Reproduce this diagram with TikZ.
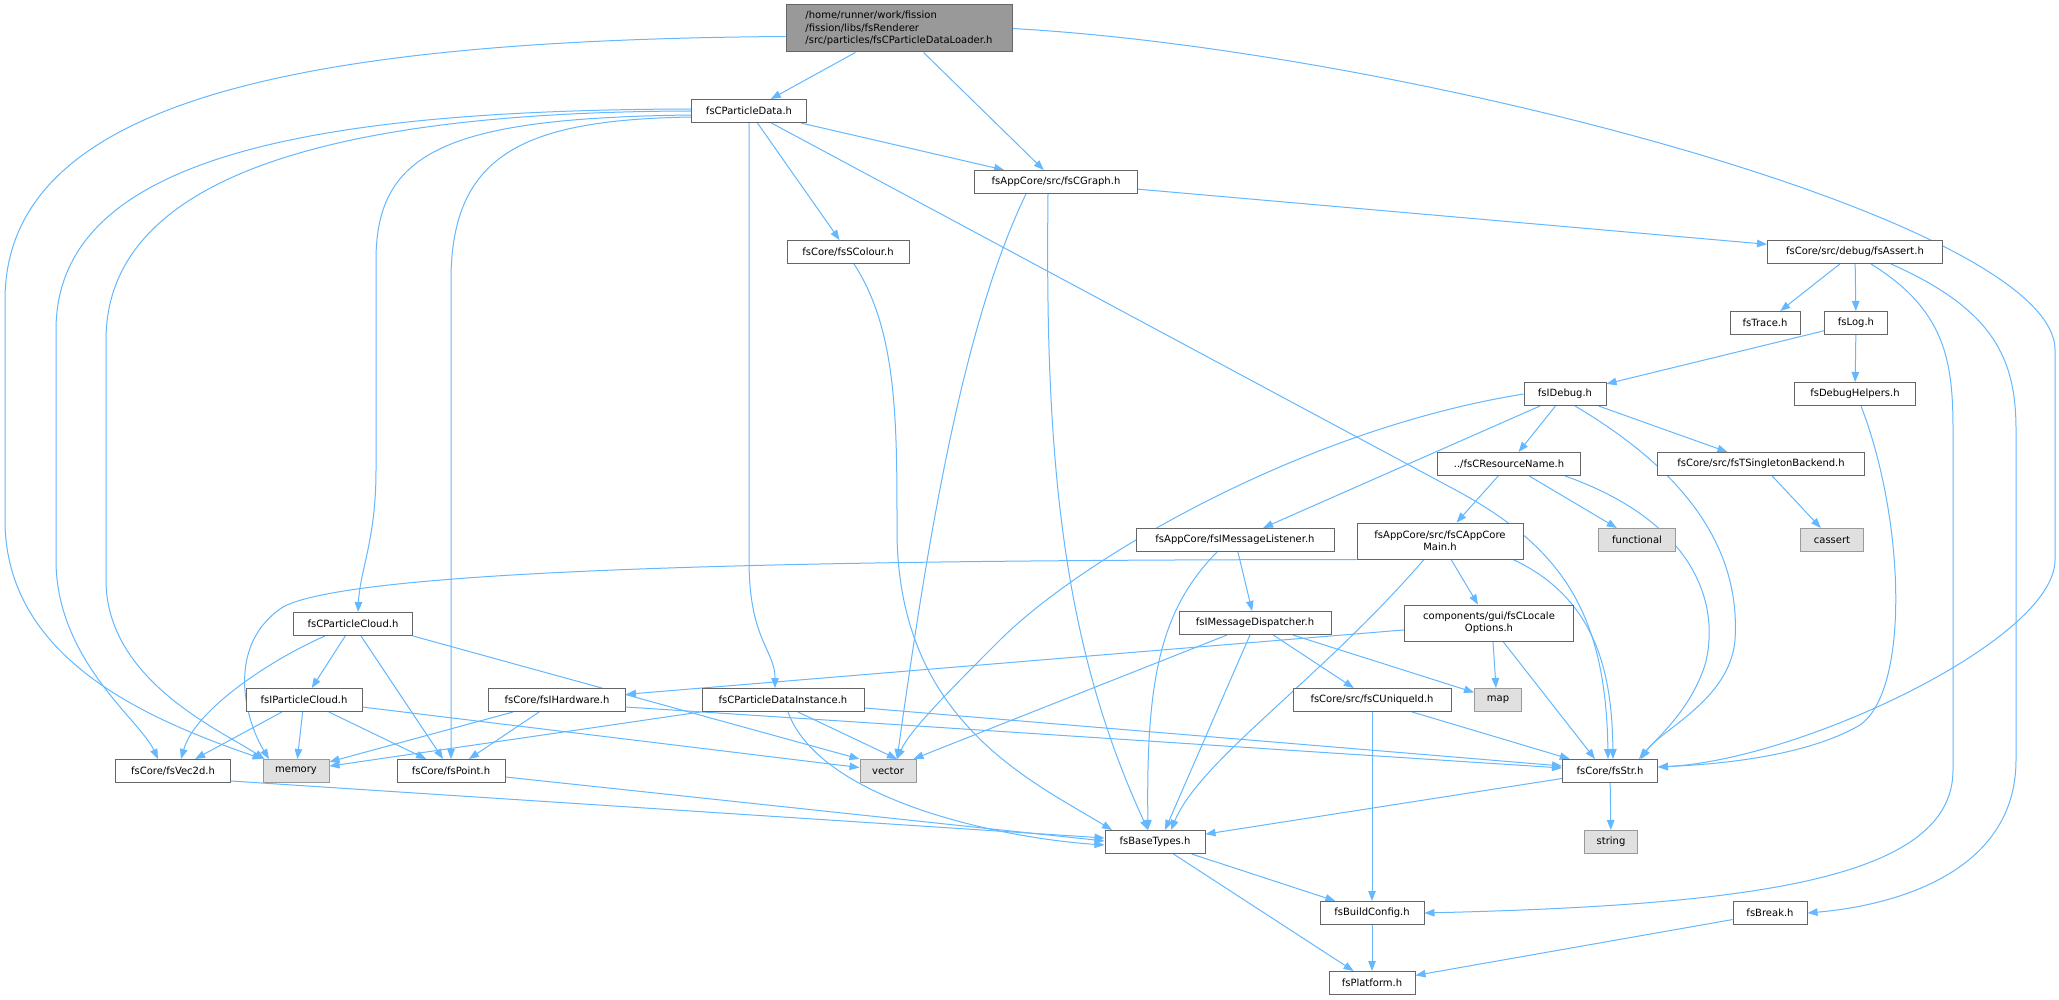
\documentclass[tikz,border=0pt]{standalone}
\usepackage{fontspec}
\setmainfont{DejaVu Sans}
\usetikzlibrary{arrows.meta}
\definecolor{edgec}{HTML}{63B8FF}
\definecolor{bordc}{HTML}{666666}
\definecolor{sysbord}{HTML}{999999}
\definecolor{sysfill}{HTML}{E0E0E0}
\definecolor{mainfill}{HTML}{999999}
\pgfdeclarelayer{bg}
\pgfsetlayers{bg,main}
\tikzset{
  box/.style={draw=bordc, fill=white, line width=1pt, minimum height=23pt, inner sep=0pt,
    font=\fontsize{10}{12.3}\selectfont, align=center, text=black},
  sys/.style={box, draw=sysbord, fill=sysfill},
  mainbox/.style={box, fill=mainfill, draw=bordc, align=left},
  dep/.style={draw=edgec, line width=1pt, -{Triangle[length=10pt,width=7.5pt]}}
}
\begin{document}
\begin{tikzpicture}[x=1pt,y=-1pt]
\begin{pgfonlayer}{bg}
\fill[white] (0,0) rectangle (2059,1000);
\end{pgfonlayer}
\useasboundingbox (0,0) rectangle (2059,1000);

\node[mainbox, minimum width=226pt, minimum height=47pt] (M) at (899,28.5) {/home/runner/work/fission\\/fission/libs/fsRenderer\\/src/particles/fsCParticleDataLoader.h};
\node[box, minimum width=115pt] (P) at (749,111) {fsCParticleData.h};
\node[box, minimum width=163pt] (G) at (1056,182) {fsAppCore/src/fsCGraph.h};
\node[box, minimum width=122pt] (C) at (848,252) {fsCore/fsSColour.h};
\node[box, minimum width=175pt] (A) at (1855,252) {fsCore/src/debug/fsAssert.h};
\node[box, minimum width=70pt] (Tr) at (1765,323) {fsTrace.h};
\node[box, minimum width=63pt] (Lg) at (1856,323) {fsLog.h};
\node[box, minimum width=82pt] (D) at (1565,394) {fsIDebug.h};
\node[box, minimum width=121pt] (DH) at (1855,394) {fsDebugHelpers.h};
\node[box, minimum width=143pt] (R) at (1509,464) {../fsCResourceName.h};
\node[box, minimum width=207pt] (T) at (1761,464) {fsCore/src/fsTSingletonBackend.h};
\node[box, minimum width=198pt] (L) at (1235,540) {fsAppCore/fsIMessageListener.h};
\node[box, minimum width=166pt, minimum height=36pt] (CM) at (1440,541) {fsAppCore/src/fsCAppCore\\Main.h};
\node[sys, minimum width=77pt] (F) at (1637,540) {functional};
\node[sys, minimum width=63pt] (CA) at (1832,540) {cassert};
\node[box, minimum width=119pt] (PC) at (353,624) {fsCParticleCloud.h};
\node[box, minimum width=152pt] (MD) at (1255,623) {fsIMessageDispatcher.h};
\node[box, minimum width=169pt, minimum height=36pt] (LO) at (1489,623) {components/gui/fsCLocale\\Options.h};
\node[box, minimum width=116pt] (IPC) at (304,700) {fsIParticleCloud.h};
\node[box, minimum width=137pt] (H) at (557,700) {fsCore/fsIHardware.h};
\node[box, minimum width=162pt] (DI) at (783,700) {fsCParticleDataInstance.h};
\node[box, minimum width=158pt] (U) at (1372,700) {fsCore/src/fsCUniqueId.h};
\node[sys, minimum width=47pt] (MAP) at (1498,700) {map};
\node[box, minimum width=115pt] (V2) at (173,771) {fsCore/fsVec2d.h};
\node[sys, minimum width=66pt] (MEM) at (296,771) {memory};
\node[box, minimum width=108pt] (PT) at (451,771) {fsCore/fsPoint.h};
\node[sys, minimum width=56pt] (VEC) at (888,771) {vector};
\node[box, minimum width=95pt] (S) at (1610,771) {fsCore/fsStr.h};
\node[box, minimum width=100pt] (B) at (1155,842) {fsBaseTypes.h};
\node[sys, minimum width=53pt] (STR) at (1611,842) {string};
\node[box, minimum width=104pt] (BC) at (1372,913) {fsBuildConfig.h};
\node[box, minimum width=74pt] (BR) at (1770,913) {fsBreak.h};
\node[box, minimum width=86pt] (PL) at (1372,983) {fsPlatform.h};

\begin{pgfonlayer}{bg}
% main
\draw[dep] (M) -- (P);
\draw[dep] (M) -- (G);
\draw[dep] (M.east) .. controls (1400,50) and (2055,220) .. (2055,350) -- (2055,560) .. controls (2055,640) and (1800,760) .. ([yshift=4pt]S.east);
\draw[dep] ([yshift=-8pt]M.west) .. controls (300,40) and (5,100) .. (5,300) -- (5,520) .. controls (5,660) and (150,720) .. (MEM.north west);
% fsCParticleData
\draw[dep] (P) -- (G);
\draw[dep] (P) -- (C);
\draw[dep] (P) -- (1450,487) .. controls (1560,545) and (1606,610) .. ([xshift=-2pt]S.north);
\draw[dep] (P.south) -- (749,560) .. controls (749,640) and (775,650) .. ([xshift=-8pt]DI.north);
\draw[dep] ([yshift=-4pt]P.west) .. controls (450,118) and (376,150) .. (376,260) -- (376,470) .. controls (376,540) and (360,570) .. ([xshift=5pt]PC.north);
\draw[dep] ([yshift=-6pt]P.west) .. controls (530,120) and (451,150) .. (451,280) -- (PT.north);
\draw[dep] ([yshift=2pt]P.west) .. controls (300,110) and (56,160) .. (56,330) -- (56,560) .. controls (56,660) and (140,720) .. ([xshift=-15pt]V2.north);
\draw[dep] ([yshift=0pt]P.west) .. controls (350,112) and (106,170) .. (106,340) -- (106,580) .. controls (106,680) and (220,730) .. ([xshift=2pt]MEM.north west);
% fsCGraph
\draw[dep] (G) -- (A);
\draw[dep] ([xshift=-8pt]G.south) .. controls (1045,450) and (1060,640) .. ([xshift=-7pt]B.north);
\draw[dep] ([xshift=-30pt]G.south) .. controls (960,330) and (925,560) .. ([xshift=9pt]VEC.north);
% fsSColour
\draw[dep] ([xshift=6pt]C.south) .. controls (897,330) and (897,420) .. (897,530) .. controls (897,720) and (1030,780) .. ([xshift=-43pt]B.north);
% fsAssert
\draw[dep] (A) -- (Tr);
\draw[dep] (A) -- (Lg);
\draw[dep] ([xshift=16pt]A.south) .. controls (1945,310) and (1953,360) .. (1953,430) -- (1953,770) .. controls (1953,880) and (1750,905) .. (BC.east);
\draw[dep] ([xshift=36pt]A.south) .. controls (1995,310) and (2016,360) .. (2016,430) -- (2016,760) .. controls (2016,870) and (1900,905) .. (BR.east);
% fsLog
\draw[dep] (Lg) -- (D);
\draw[dep] (Lg) -- (DH);
\draw[dep] ([xshift=6pt]DH.south) .. controls (1905,520) and (1910,690) .. (1860,725) .. controls (1800,760) and (1700,765) .. ([yshift=4pt]S.east);
% fsIDebug
\draw[dep] (D) -- (R);
\draw[dep] (D) -- (T);
\draw[dep] ([xshift=-25pt]D.south) -- ([xshift=28pt]L.north);
\draw[dep] (D.west) .. controls (1300,430) and (1080,560) .. (1000,640) .. controls (950,690) and (910,730) .. ([xshift=9pt]VEC.north);
\draw[dep] ([xshift=10pt]D.south) .. controls (1700,480) and (1740,560) .. (1735,640) .. controls (1730,700) and (1660,730) .. ([xshift=31pt]S.north);
% fsCResourceName
\draw[dep] (R) -- (CM);
\draw[dep] (R) -- (F);
\draw[dep] ([xshift=56pt]R.south) .. controls (1690,520) and (1722,600) .. (1705,665) .. controls (1690,710) and (1660,735) .. ([xshift=29pt]S.north);
\draw[dep] (T) -- (CA);
% fsIMessageListener
\draw[dep] (L) -- (MD);
\draw[dep] ([xshift=-18pt]L.south) .. controls (1160,610) and (1146,680) .. ([xshift=-7pt]B.north);
% fsCAppCoreMain
\draw[dep] (CM) -- (LO);
\draw[dep] (CM.south west) .. controls (900,560) and (360,565) .. (283,607) .. controls (225,645) and (245,720) .. ([xshift=-27pt]MEM.north);
\draw[dep] ([xshift=-16pt]CM.south) .. controls (1320,680) and (1200,760) .. ([xshift=16pt]B.north);
\draw[dep] ([xshift=73pt]CM.south) .. controls (1600,600) and (1612,680) .. ([xshift=3pt]S.north);
% fsCLocaleOptions
\draw[dep] (LO) -- (H);
\draw[dep] ([xshift=4pt]LO.south) -- ([xshift=-2pt]MAP.north);
\draw[dep] ([xshift=14pt]LO.south) -- ([xshift=-15pt]S.north);
% fsIMessageDispatcher
\draw[dep] ([xshift=-28pt]MD.south) -- ([xshift=-3pt]VEC.north east);
\draw[dep] ([xshift=-5pt]MD.south) -- ([xshift=10pt]B.north);
\draw[dep] (MD) -- (U);
\draw[dep] (MD) -- (MAP);
% fsIHardware
\draw[dep] (H) -- (MEM);
\draw[dep] (H) -- (PT);
\draw[dep] ([yshift=-7pt]H.east) -- ([yshift=3pt]S.west);
% fsCUniqueId
\draw[dep] (U) -- (S);
\draw[dep] (U) -- (BC);
% fsIParticleCloud
\draw[dep] (IPC) -- (V2);
\draw[dep] (IPC) -- (MEM);
\draw[dep] (IPC) -- (PT);
\draw[dep] (IPC) -- (VEC);
% fsCParticleCloud
\draw[dep] (PC) -- (IPC);
\draw[dep] ([xshift=-28pt]PC.south) .. controls (270,660) and (195,710) .. ([xshift=8pt]V2.north);
\draw[dep] (PC) -- (PT);
\draw[dep] (PC.south east) -- (VEC.north west);
% fsCParticleDataInstance
\draw[dep] (DI) -- (MEM);
\draw[dep] ([xshift=15pt]DI.south) -- ([xshift=9pt]VEC.north);
\draw[dep] ([xshift=5pt]DI.south) .. controls (820,800) and (1000,838) .. ([yshift=-3pt]B.west);
\draw[dep] ([yshift=-8pt]DI.east) -- ([yshift=5pt]S.west);
% leaves
\draw[dep] ([yshift=-10pt]V2.east) -- ([yshift=4pt]B.west);
\draw[dep] ([yshift=-6pt]PT.east) -- ([yshift=1pt]B.west);
\draw[dep] (S) -- (B);
\draw[dep] (S) -- (STR);
\draw[dep] (B) -- (BC);
\draw[dep] (B) -- (PL);
\draw[dep] (BC) -- (PL);
\draw[dep] (BR) -- (PL);
\end{pgfonlayer}
\end{tikzpicture}
\end{document}
